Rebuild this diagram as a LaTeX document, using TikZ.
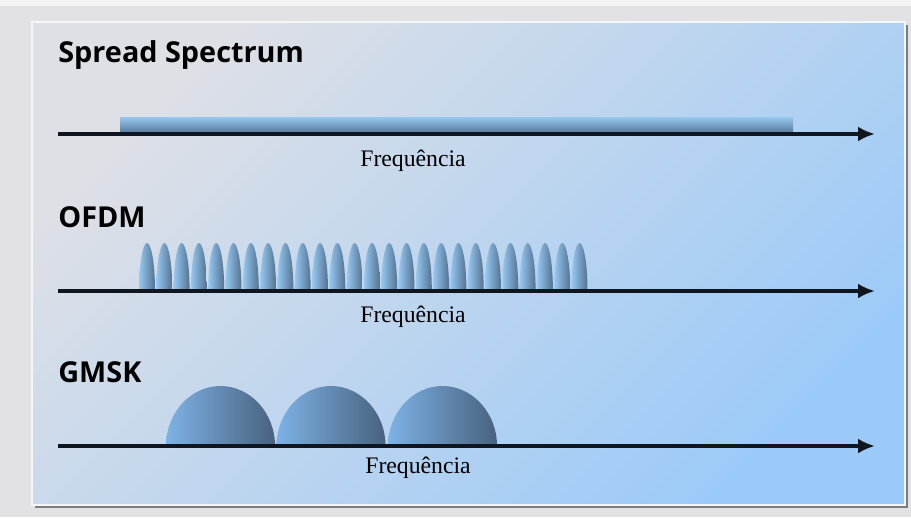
\documentclass[tikz,border=0pt]{standalone}
\usepackage{fontspec}
\setsansfont{Open Sans}
\setmainfont{Liberation Serif}
\usepackage{xcolor}
\definecolor{ssframe}{RGB}{226,226,228}
\definecolor{ssshadow}{RGB}{120,124,130}
\definecolor{sspanel}{RGB}{222,224,230}
\definecolor{ssblue}{RGB}{156,202,248}
\definecolor{ssaxis}{RGB}{16,22,32}
\definecolor{sslight}{RGB}{150,200,242}
\definecolor{ssdark}{RGB}{84,114,144}
\definecolor{ssdome}{RGB}{125,178,230}
\definecolor{ssdomedark}{RGB}{72,98,126}
\usepackage{tikz}
\usetikzlibrary{arrows.meta}

\begin{document}
\begin{tikzpicture}[x=0.02cm, y=-0.02cm,
  freqaxis/.style={draw=ssaxis, line width=2pt, -{Latex[length=0.34cm, width=0.3cm]}},
  modtitle/.style={font=\sffamily\bfseries\fontsize{16.4}{20}\selectfont, anchor=base west, inner sep=0pt},
  freqlabel/.style={font=\fontsize{13.5}{16}\selectfont, anchor=base west, inner sep=0pt},
  peakshade/.style={left color=sslight, right color=ssdark},
  domeshade/.style={left color=ssdome, right color=ssdomedark}]

\useasboundingbox (0,0) rectangle (911,517);

% === Background and panel ===
\fill[ssframe] (0,0) rectangle (911,517);
\fill[white!60!ssframe] (0,0) rectangle (911,6);
\fill[ssshadow] (35,25) rectangle (908,508);
\shade[shading=axis, top color=sspanel, bottom color=ssblue, shading angle=45,
       draw=white!70!sspanel, line width=0.6pt] (32,22) rectangle (905,505);

% === Spread Spectrum ===
\node[modtitle] (sstitle) at (58,63) {Spread Spectrum};
\shade[top color=sslight, bottom color=ssdark] (120,117) rectangle (793,134);
\coordinate (ssstart) at (58,134);
\coordinate (ssend) at (875,134);
\draw[freqaxis] (ssstart) -- (ssend);
\node[freqlabel] (ssfreq) at (360,166) {Frequência};

% === OFDM ===
\node[modtitle] (ofdmtitle) at (58,227) {OFDM};
\foreach \i in {0,...,25} {
  \pgfmathsetmacro\px{147+17.3*\i}
  \shade[peakshade] (\px-8,291) .. controls (\px-8,262) and (\px-4,243) .. (\px,243)
        .. controls (\px+4,243) and (\px+8,262) .. (\px+8,291) -- cycle;
}
\coordinate (ofdmstart) at (58,291);
\coordinate (ofdmend) at (875,291);
\draw[freqaxis] (ofdmstart) -- (ofdmend);
\node[freqlabel] (ofdmfreq) at (360,322) {Frequência};

% === GMSK ===
\node[modtitle] (gmsktitle) at (58,382) {GMSK};
\foreach \cx in {220.5,331,442.5} {
  \shade[domeshade] (\cx-54.5,446) .. controls (\cx-54.5,413) and (\cx-30,386) .. (\cx,386)
        .. controls (\cx+30,386) and (\cx+54.5,413) .. (\cx+54.5,446) -- cycle;
}
\coordinate (gmskstart) at (58,446);
\coordinate (gmskend) at (875,446);
\draw[freqaxis] (gmskstart) -- (gmskend);
\node[freqlabel] (gmskfreq) at (365,473) {Frequência};

\end{tikzpicture}
\end{document}
